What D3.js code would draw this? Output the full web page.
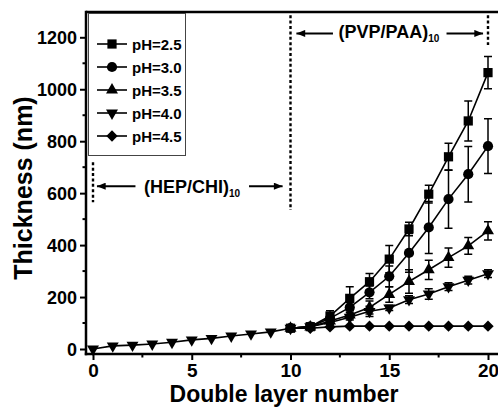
<!DOCTYPE html>
<html>
<head>
<meta charset="utf-8">
<script src="https://cdn.jsdelivr.net/npm/d3@7"></script>
<style>
  body { margin: 0; background: #fff; }
  svg { display: block; font-family: "Liberation Sans", Arial, sans-serif; font-weight: bold; }
</style>
</head>
<body>
<div class="root"></div>
<script>
// layer numbers
var layers = d3.range(0, 21);
var layersPVP = d3.range(10, 21);

// shared HEP/CHI part (layers 0..10)
var baseThick = [0, 12, 15, 19, 26, 35, 41, 50, 58, 66, 80];

// PVP/PAA part, layers 10..20
var ph25 = [80, 86, 127, 195, 259, 346, 462, 596, 740, 878, 1064];
var ph30 = [80, 86, 118, 160, 218, 280, 370, 468, 577, 673, 781];
var ph35 = [80, 85, 108, 131, 160, 210, 260, 305, 352, 397, 455];
var ph40 = [80, 86, 102, 122, 145, 158, 190, 212, 240, 265, 290];
var ph45 = [80, 80, 85, 88, 88, 88, 88, 88, 88, 88, 88];

var err25 = [0, 5, 20, 45, 32, 52, 26, 34, 52, 77, 62];
var err30 = [0, 5, 15, 20, 25, 40, 75, 100, 112, 107, 105];
var err35 = [0, 5, 10, 15, 25, 30, 45, 37, 37, 32, 35];
var err40 = [0, 5, 8, 10, 20, 10, 15, 20, 15, 15, 15];
var err45 = [0, 0, 0, 0, 0, 0, 0, 0, 0, 0, 0];

var seriesNames = ['pH=2.5', 'pH=3.0', 'pH=3.5', 'pH=4.0', 'pH=4.5'];
var yTicks = [0, 200, 400, 600, 800, 1000, 1200];
var xTicks = [0, 5, 10, 15, 20];

function runChart() {
  var w = 498, h = 407;

  var svg = d3.select('.root').append('svg')
    .attr('width', w)
    .attr('height', h);

  var x = d3.scaleLinear().domain([0, 20]).range([93, 488]);
  var y = d3.scaleLinear().domain([0, 1200]).range([349, 37.3]);

  var axisLeftX = 86, axisBottomY = 354, topY = 12;

  // series table built from the arrays
  var vals = [ph25, ph30, ph35, ph40, ph45];
  var errs = [err25, err30, err35, err40, err45];
  var shapes = ['square', 'circle', 'up', 'down', 'diamond'];
  var series = seriesNames.map(function(name, i) {
    var pts = layersPVP.map(function(l, j) { return {x: l, y: vals[i][j], e: errs[i][j]}; });
    if (shapes[i] == 'down') {
      pts = layers.slice(0, 10).map(function(l, j) { return {x: l, y: baseThick[j], e: 0}; }).concat(pts);
    }
    return {name: name, shape: shapes[i], pts: pts};
  });

  function markerPath(shape) {
    if (shape == 'square') return d3.symbol(d3.symbolSquare, 85)();
    if (shape == 'circle') return d3.symbol(d3.symbolCircle, 82)();
    if (shape == 'up' || shape == 'down') return d3.symbol(d3.symbolTriangle, 62)();
    return d3.symbol(d3.symbolSquare, 64)();
  }
  function markerRot(shape) {
    if (shape == 'down') return ' rotate(180)';
    if (shape == 'diamond') return ' rotate(45)';
    return '';
  }

  // frame
  svg.append('line')
    .attr('x1', axisLeftX).attr('x2', w + 2)
    .attr('y1', topY).attr('y2', topY)
    .attr('stroke', '#000').attr('stroke-width', 2.5);

  // y axis
  var yAxis = svg.append('g')
    .attr('transform', 'translate(' + axisLeftX + ',0)')
    .call(d3.axisLeft(y).tickValues(yTicks).tickFormat(d3.format('d'))
      .tickSize(6).tickSizeOuter(0).tickPadding(3));
  yAxis.select('.domain').remove();
  yAxis.selectAll('.tick line').attr('stroke-width', 2);
  yAxis.selectAll('.tick text')
    .style('font-family', '"Liberation Sans", Arial, sans-serif')
    .style('font-weight', 'bold')
    .style('font-size', '18px')
    .attr('dy', '0.36em');
  svg.append('g')
    .selectAll('line')
    .data(d3.range(100, 1300, 200))
    .enter().append('line')
      .attr('x1', axisLeftX - 3.5).attr('x2', axisLeftX)
      .attr('y1', function(d) { return y(d); })
      .attr('y2', function(d) { return y(d); })
      .attr('stroke', '#000').attr('stroke-width', 2);
  svg.append('line')
    .attr('x1', axisLeftX).attr('x2', axisLeftX)
    .attr('y1', topY - 1.2).attr('y2', axisBottomY + 1.2)
    .attr('stroke', '#000').attr('stroke-width', 2.5);

  // x axis
  var xAxis = svg.append('g')
    .attr('transform', 'translate(0,' + axisBottomY + ')')
    .call(d3.axisBottom(x).tickValues(xTicks).tickSize(6).tickSizeOuter(0).tickPadding(4));
  xAxis.select('.domain').remove();
  xAxis.selectAll('.tick line').attr('stroke-width', 2);
  xAxis.selectAll('.tick text')
    .style('font-family', '"Liberation Sans", Arial, sans-serif')
    .style('font-weight', 'bold')
    .style('font-size', '19px');
  svg.append('g')
    .selectAll('line')
    .data([2.5, 7.5, 12.5, 17.5])
    .enter().append('line')
      .attr('x1', function(d) { return x(d); })
      .attr('x2', function(d) { return x(d); })
      .attr('y1', axisBottomY).attr('y2', axisBottomY + 3.5)
      .attr('stroke', '#000').attr('stroke-width', 2);
  svg.append('line')
    .attr('x1', axisLeftX - 1.2).attr('x2', w + 2)
    .attr('y1', axisBottomY).attr('y2', axisBottomY)
    .attr('stroke', '#000').attr('stroke-width', 2.5);

  // axis titles
  svg.append('text')
    .attr('x', 284).attr('y', 402)
    .attr('text-anchor', 'middle')
    .style('font-size', '23px')
    .text('Double layer number');
  svg.append('text')
    .attr('transform', 'translate(32,188) rotate(-90)')
    .attr('text-anchor', 'middle')
    .style('font-size', '25px')
    .text('Thickness (nm)');

  // dotted guides
  var guideX = [0, 10, 20];
  var guideTop = [719, 1285, 1285];
  var guideBot = [565, 535, 1170];
  svg.append('g')
    .selectAll('line')
    .data(guideX)
    .enter().append('line')
      .attr('x1', function(d) { return x(d); })
      .attr('x2', function(d) { return x(d); })
      .attr('y1', function(d, i) { return y(guideTop[i]); })
      .attr('y2', function(d, i) { return y(guideBot[i]); })
      .attr('stroke', '#000').attr('stroke-width', 2.4)
      .attr('stroke-dasharray', '3,2.4');

  // arrows
  svg.append('defs').append('marker')
    .attr('id', 'ah')
    .attr('viewBox', '0 0 10 8')
    .attr('refX', 10).attr('refY', 4)
    .attr('markerWidth', 10).attr('markerHeight', 7)
    .attr('markerUnits', 'userSpaceOnUse')
    .attr('orient', 'auto')
    .append('path').attr('d', 'M0,0 L10,4 L0,8 Z').attr('fill', '#000');

  var arrowFrom = [2.15, 7.9, 12.15, 17.9];
  var arrowTo = [0.2, 9.6, 10.3, 19.75];
  var arrowY = [627, 627, 1215, 1215];
  svg.append('g')
    .selectAll('line')
    .data(arrowFrom)
    .enter().append('line')
      .attr('x1', function(d) { return x(d); })
      .attr('x2', function(d, i) { return x(arrowTo[i]); })
      .attr('y1', function(d, i) { return y(arrowY[i]); })
      .attr('y2', function(d, i) { return y(arrowY[i]); })
      .attr('stroke', '#000').attr('stroke-width', 2)
      .attr('marker-end', 'url(#ah)');

  var regionText = ['(HEP/CHI)', '(PVP/PAA)'];
  var regionX = [2.58, 12.43];
  var regionY = [600, 1196];
  regionText.forEach(function(t, i) {
    var tx = svg.append('text')
      .attr('x', x(regionX[i])).attr('y', y(regionY[i]))
      .style('font-size', '18px')
      .text(t);
    tx.append('tspan')
      .attr('dy', 4)
      .style('font-size', '10px')
      .text('10');
  });

  // error bars, lines, markers
  var line = d3.line().x(function(d) { return x(d.x); }).y(function(d) { return y(d.y); });
  var drawOrder = [4, 3, 2, 1, 0];

  drawOrder.forEach(function(i) {
    var s = series[i];
    var g = svg.append('g');
    var withErr = s.pts.filter(function(d) { return d.e > 0; });
    g.selectAll('.eb')
      .data(withErr)
      .enter().append('path')
        .attr('d', function(d) {
          var cx = x(d.x), t = y(d.y + d.e), b = y(d.y - d.e);
          return 'M' + (cx - 4) + ',' + t + 'H' + (cx + 4) + 'M' + cx + ',' + t + 'V' + b +
                 'M' + (cx - 4) + ',' + b + 'H' + (cx + 4);
        })
        .attr('fill', 'none').attr('stroke', '#000').attr('stroke-width', 1.5);
    g.append('path')
      .attr('d', line(s.pts))
      .attr('fill', 'none').attr('stroke', '#000').attr('stroke-width', 1.6);
    g.selectAll('.m')
      .data(s.pts)
      .enter().append('path')
        .attr('d', markerPath(s.shape))
        .attr('transform', function(d) { return 'translate(' + x(d.x) + ',' + y(d.y) + ')' + markerRot(s.shape); })
        .attr('fill', '#000');
  });

  // legend
  var lg = svg.append('g');
  lg.append('rect')
    .attr('x', 88.5).attr('y', 13.5)
    .attr('width', 97).attr('height', 142)
    .attr('fill', '#fff').attr('stroke', '#444').attr('stroke-width', 1);
  var legY = [44, 67, 90, 113, 136];
  series.forEach(function(s, i) {
    lg.append('line')
      .attr('x1', 97).attr('x2', 127)
      .attr('y1', legY[i]).attr('y2', legY[i])
      .attr('stroke', '#000').attr('stroke-width', 1.6);
    lg.append('path')
      .attr('d', markerPath(s.shape))
      .attr('transform', 'translate(112,' + legY[i] + ')' + markerRot(s.shape))
      .attr('fill', '#000');
    lg.append('text')
      .attr('x', 132).attr('y', legY[i] + 5.5)
      .style('font-size', '15px')
      .text(s.name);
  });
}

window.onload = function() {
  runChart();
};
</script>
</body>
</html>
